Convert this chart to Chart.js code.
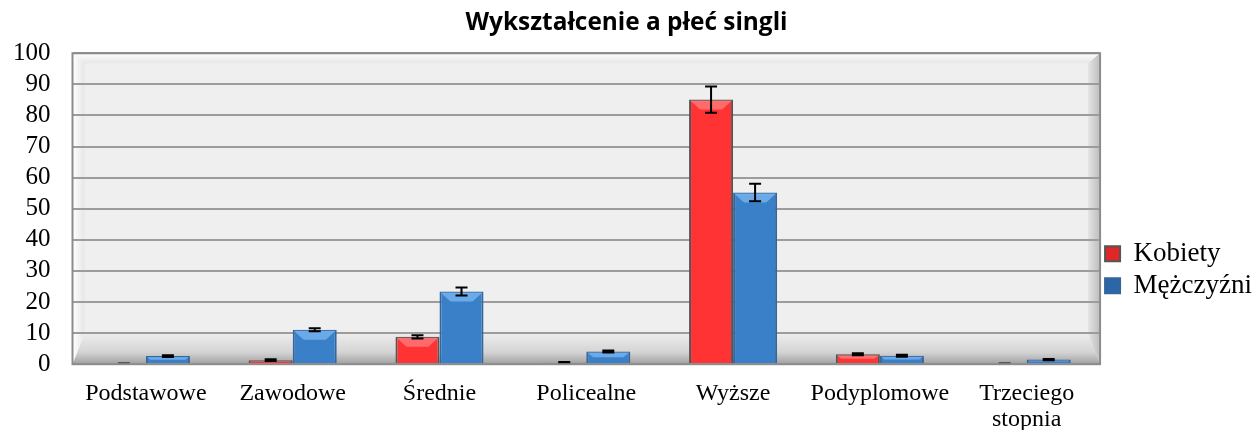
<!DOCTYPE html>
<html>
<head>
<meta charset="utf-8">
<script src="https://cdn.jsdelivr.net/npm/chart.js@4.4.1/dist/chart.umd.min.js"></script>
<style>
  html, body { margin: 0; padding: 0; background: #fff; }
  #wrap { width: 1252px; height: 430px; }
</style>
</head>
<body>
<div id="wrap"><canvas id="chart" width="1252" height="430"></canvas></div>
<script>
// chart data
const categories = ['Podstawowe', 'Zawodowe', 'Średnie', 'Policealne', 'Wyższe', 'Podyplomowe', ['Trzeciego', 'stopnia']];
const kobiety = [0, 1.3, 8.8, 0.5, 85.1, 3.2, 0];
const mezczyzni = [2.6, 11.1, 23.4, 4.1, 55.2, 2.7, 1.5];
const kobietyErr = [0, 0.3, 0.5, 0.2, 4.2, 0.3, 0];
const mezczyzniErr = [0.3, 0.5, 1.3, 0.3, 2.8, 0.3, 0.2];
const yTicks = [0, 10, 20, 30, 40, 50, 60, 70, 80, 90, 100];

const serif = "'Liberation Serif', 'Times New Roman', serif";

// 3D-like back wall and floor behind the bars
const wallPlugin = {
    id: 'wall',
    beforeDraw(chart) {
        const { ctx, chartArea: a } = chart;
        ctx.save();
        ctx.fillStyle = '#efefef';
        ctx.fillRect(a.left, a.top, a.right - a.left, a.bottom - a.top);

        // left wall
        let g = ctx.createLinearGradient(a.left, 0, a.left + 14, 0);
        g.addColorStop(0, '#ffffff');
        g.addColorStop(1, '#e2e2e2');
        ctx.fillStyle = g;
        ctx.beginPath();
        ctx.moveTo(a.left, a.top);
        ctx.lineTo(a.left + 12, a.top + 10);
        ctx.lineTo(a.left + 12, a.bottom - 30);
        ctx.lineTo(a.left, a.bottom);
        ctx.fill();

        // top edge
        g = ctx.createLinearGradient(0, a.top, 0, a.top + 10);
        g.addColorStop(0, '#ffffff');
        g.addColorStop(1, '#e6e6e6');
        ctx.fillStyle = g;
        ctx.beginPath();
        ctx.moveTo(a.left, a.top);
        ctx.lineTo(a.right, a.top);
        ctx.lineTo(a.right - 12, a.top + 10);
        ctx.lineTo(a.left + 12, a.top + 10);
        ctx.fill();

        // right edge
        g = ctx.createLinearGradient(a.right - 12, 0, a.right, 0);
        g.addColorStop(0, '#e4e4e4');
        g.addColorStop(1, '#bdbdbd');
        ctx.fillStyle = g;
        ctx.beginPath();
        ctx.moveTo(a.right, a.top);
        ctx.lineTo(a.right, a.bottom);
        ctx.lineTo(a.right - 12, a.bottom - 30);
        ctx.lineTo(a.right - 12, a.top + 10);
        ctx.fill();

        // floor
        g = ctx.createLinearGradient(0, a.bottom - 30, 0, a.bottom);
        g.addColorStop(0, '#ececec');
        g.addColorStop(0.6, '#d4d4d4');
        g.addColorStop(1, '#a0a0a0');
        ctx.fillStyle = g;
        ctx.beginPath();
        ctx.moveTo(a.left + 12, a.bottom - 30);
        ctx.lineTo(a.right - 12, a.bottom - 30);
        ctx.lineTo(a.right, a.bottom);
        ctx.lineTo(a.left, a.bottom);
        ctx.fill();
        ctx.restore();
    },
    afterDraw(chart) {
        const { ctx, chartArea: a } = chart;
        ctx.save();
        ctx.strokeStyle = '#8c8c8c';
        ctx.lineWidth = 2;
        ctx.strokeRect(a.left, a.top, a.right - a.left, a.bottom - a.top);
        ctx.restore();
    }
};

// bevel highlight on bar tops, then error bars, placed with the y scale
const bevelColors = ['rgba(255,120,120,0.8)', 'rgba(120,180,240,0.8)'];
const errorBarPlugin = {
    id: 'errorBars',
    afterDatasetsDraw(chart) {
        const { ctx } = chart;
        const y = chart.scales.y;
        const errs = [kobietyErr, mezczyzniErr];
        ctx.save();
        chart.data.datasets.forEach((ds, i) => {
            const meta = chart.getDatasetMeta(i);
            meta.data.forEach((bar, j) => {
                const h = bar.base - bar.y;
                if (h < 3) return;
                const d = Math.min(10, h / 2);
                const x0 = bar.x - bar.width / 2 + 1, x1 = bar.x + bar.width / 2 - 1;
                ctx.fillStyle = bevelColors[i];
                ctx.beginPath();
                ctx.moveTo(x0, bar.y + 1);
                ctx.lineTo(x1, bar.y + 1);
                ctx.lineTo(x1 - d, bar.y + d);
                ctx.lineTo(x0 + d, bar.y + d);
                ctx.fill();
            });
        });
        ctx.strokeStyle = '#000';
        ctx.lineWidth = 2;
        chart.data.datasets.forEach((ds, i) => {
            const meta = chart.getDatasetMeta(i);
            meta.data.forEach((bar, j) => {
                const v = ds.data[j];
                const x = bar.x;
                if (!v) {
                    ctx.save();
                    ctx.strokeStyle = '#444';
                    ctx.beginPath();
                    ctx.moveTo(x - 6, bar.base - 1); ctx.lineTo(x + 6, bar.base - 1);
                    ctx.stroke();
                    ctx.restore();
                    return;
                }
                const e = errs[i][j];
                const top = y.getPixelForValue(v + e);
                const bot = y.getPixelForValue(v - e);
                ctx.beginPath();
                ctx.moveTo(x, top); ctx.lineTo(x, bot);
                ctx.moveTo(x - 6, top); ctx.lineTo(x + 6, top);
                ctx.moveTo(x - 6, bot); ctx.lineTo(x + 6, bot);
                ctx.stroke();
            });
        });
        ctx.restore();
    }
};

function barFill(base, light, dark) {
    return function (context) {
        const el = context.element;
        if (!el || el.width == null || isNaN(el.x)) return base;
        const c = context.chart.ctx;
        const x0 = el.x - el.width / 2;
        const g = c.createLinearGradient(x0, 0, x0 + el.width, 0);
        g.addColorStop(0, light);
        g.addColorStop(0.5, base);
        g.addColorStop(1, dark);
        return g;
    };
}

const ctx = document.getElementById('chart').getContext('2d');
new Chart(ctx, {
    type: 'bar',
    data: {
        labels: categories,
        datasets: [{
            label: 'Kobiety',
            data: kobiety,
            backgroundColor: barFill('#ff3333', '#ff4a4a', '#e02626'),
            borderColor: '#555555',
            borderWidth: 2,
            categoryPercentage: 0.6,
            barPercentage: 1.0
        }, {
            label: 'Mężczyźni',
            data: mezczyzni,
            backgroundColor: barFill('#3a80c8', '#4b8fd6', '#2b67a6'),
            borderColor: '#35659a',
            borderWidth: 2,
            categoryPercentage: 0.6,
            barPercentage: 1.0
        }]
    },
    options: {
        responsive: false,
        animation: false,
        layout: { padding: { left: -9, right: -10, top: 0, bottom: -19 } },
        plugins: {
            title: {
                display: true,
                text: 'Wykształcenie a płeć singli',
                color: '#000',
                font: { family: 'Open Sans', size: 24.4, weight: 'bold' },
                padding: { top: 8, bottom: 16 }
            },
            legend: {
                position: 'right',
                align: 'start',
                title: { display: true, text: ' ', padding: { top: 234, bottom: 0 }, font: { size: 1 } },
                labels: {
                    color: '#000',
                    font: { family: serif, size: 27, lineHeight: 1.05 },
                    boxWidth: 15,
                    boxHeight: 15,
                    padding: 5
                }
            },
            tooltip: { enabled: false }
        },
        scales: {
            x: {
                grid: { display: false, drawTicks: false },
                border: { display: false },
                ticks: {
                    color: '#000',
                    font: { family: serif, size: 24, lineHeight: 1.1 },
                    padding: 16,
                    maxRotation: 0,
                    autoSkip: false
                }
            },
            y: {
                min: 0,
                max: 100,
                afterBuildTicks(axis) { axis.ticks = yTicks.map(v => ({ value: v })); },
                grid: { color: '#9c9c9c', lineWidth: 2, drawTicks: false },
                border: { display: false },
                ticks: {
                    color: '#000',
                    font: { family: serif, size: 25 },
                    padding: 22,
                    autoSkip: false
                }
            }
        }
    },
    plugins: [wallPlugin, errorBarPlugin]
});
</script>
</body>
</html>
